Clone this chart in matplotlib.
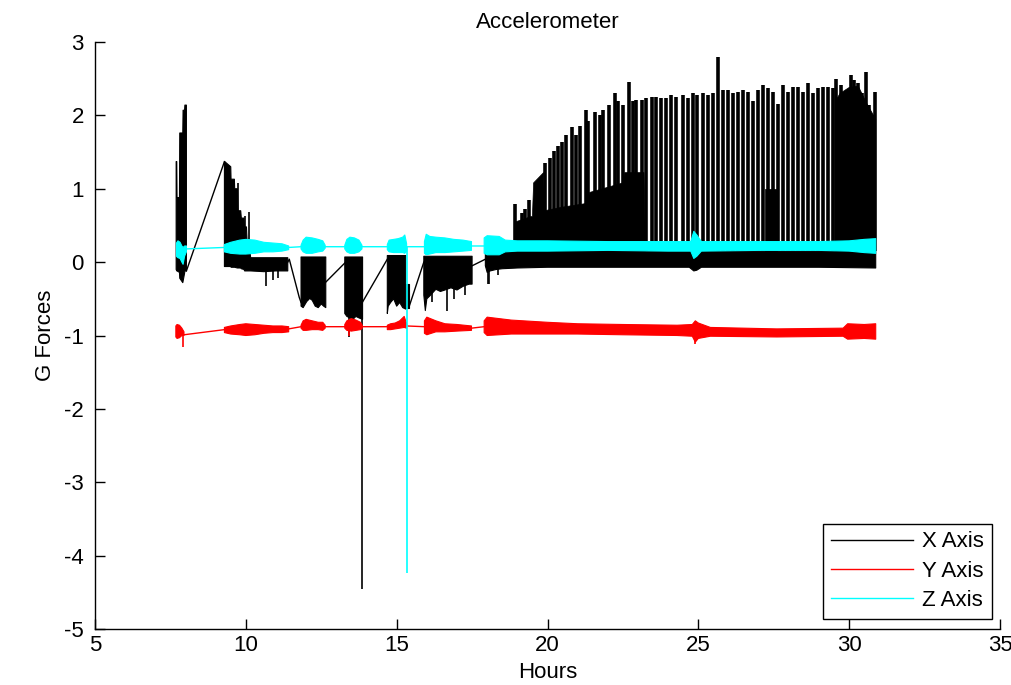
import numpy as np
import matplotlib
matplotlib.use("Agg")
import matplotlib.pyplot as plt

nan = np.nan

# ---------------- X axis (black) ----------------
# dense noisy blocks: envelope (hours, low, high), NaN separates blocks
x_blk_hours = [7.69, 7.71, 7.72, 7.80, 7.81, 7.91, 7.92, 7.97, 7.98, 8.03, nan,
               9.29, 9.30, 9.50, 9.51, 9.62, 9.63, 9.72, 9.74, 9.83, 9.85, 9.94, 9.96,
               10.02, 10.04, 10.10, 10.12, 10.16, 10.60, 11.00, 11.39, nan,
               11.83, 11.90, 12.00, 12.10, 12.20, 12.30, 12.40, 12.50, 12.58, 12.65, nan,
               13.28, 13.35, 13.45, 13.55, 13.65, 13.75, 13.87, nan,
               14.69, 14.72, 14.80, 14.90, 15.00, 15.10, 15.20, 15.30, nan,
               15.31, 15.40, nan,
               15.90, 15.95, 16.00, 16.10, 16.30, 16.45, 16.60, 16.80, 17.00, 17.20, 17.40, 17.50, nan,
               17.94, 18.00, 18.10, 18.30, 18.50, 19.00, 20.00, 22.00, 24.70, 24.85, 24.95, 25.10,
               27.00, 29.00, 30.88]
x_blk_high = [1.37, 1.37, 0.88, 0.88, 1.76, 1.76, 2.07, 2.07, 2.14, 2.14, nan,
              1.37, 1.37, 1.30, 1.13, 1.13, 1.00, 1.00, 0.70, 0.70, 0.60, 0.60, 0.48,
              0.48, 0.30, 0.30, 0.20, 0.06, 0.06, 0.06, 0.06, nan,
              0.07, 0.07, 0.07, 0.07, 0.07, 0.07, 0.07, 0.07, 0.07, 0.07, nan,
              0.07, 0.07, 0.07, 0.07, 0.07, 0.07, 0.07, nan,
              0.09, 0.09, 0.09, 0.09, 0.09, 0.09, 0.09, 0.09, nan,
              -0.30, -0.30, nan,
              0.08, 0.08, 0.08, 0.08, 0.08, 0.08, 0.08, 0.08, 0.08, 0.08, 0.08, 0.08, nan,
              0.15, 0.15, 0.15, 0.15, 0.15, 0.15, 0.15, 0.15, 0.15, 0.15, 0.15, 0.15,
              0.15, 0.15, 0.15]
x_blk_low = [-0.10, -0.12, -0.12, -0.14, -0.22, -0.28, -0.26, -0.15, -0.12, -0.12, nan,
             -0.06, -0.06, -0.06, -0.07, -0.07, -0.07, -0.08, -0.08, -0.08, -0.09, -0.10, -0.12,
             -0.12, -0.12, -0.12, -0.12, -0.12, -0.13, -0.12, -0.12, nan,
             -0.60, -0.62, -0.55, -0.49, -0.52, -0.60, -0.62, -0.57, -0.60, -0.62, nan,
             -0.70, -0.74, -0.76, -0.78, -0.74, -0.76, -0.78, nan,
             -0.70, -0.60, -0.55, -0.50, -0.60, -0.55, -0.62, -0.64, nan,
             -0.62, -0.62, nan,
             -0.45, -0.66, -0.50, -0.46, -0.37, -0.40, -0.38, -0.35, -0.38, -0.33, -0.30, -0.30, nan,
             -0.05, -0.14, -0.12, -0.10, -0.09, -0.08, -0.07, -0.07, -0.07, -0.12, -0.11, -0.07,
             -0.07, -0.07, -0.08]

# solid mass above baseline after hour 19
x_mass_hours = [18.90, 18.95, 19.45, 19.50, 19.54, 19.87, 19.90, 20.50, 21.30, 21.40, 22.00,
                22.50, 22.56, 23.20, 23.25, nan, 27.20, 27.60, nan,
                29.55, 29.70, 30.00, 30.30, 30.60, 30.88]
x_mass_top = [0.15, 0.55, 0.62, 0.62, 1.08, 1.22, 0.70, 0.75, 0.80, 0.95, 1.02,
              1.08, 1.22, 1.22, 0.15, nan, 1.00, 1.00, nan,
              2.20, 2.30, 2.38, 2.40, 2.15, 1.95]

# periodic tall teeth
x_tooth_hours = [18.93, 19.15, 19.26, 19.39, 19.92, 20.09, 20.20, 20.36, 20.47, 20.60,
                 20.80, 20.94, 21.08, 21.27, 21.35, 21.57, 21.74, 21.85, 22.04, 22.24,
                 22.35, 22.51, 22.70, 22.84, 22.95, 23.12, 23.28, 23.45, 23.61, 23.75,
                 23.94, 24.11, 24.27, 24.50, 24.66, 24.83, 24.97, 25.16, 25.32, 25.49,
                 25.65, 25.82, 25.98, 26.15, 26.31, 26.48, 26.64, 26.81, 26.97, 27.14,
                 27.30, 27.47, 27.63, 27.80, 27.96, 28.13, 28.29, 28.46, 28.62, 28.79,
                 28.96, 29.12, 29.29, 29.45, 29.56, 29.73, 29.89, 30.06, 30.17, 30.28,
                 30.44, 30.55, 30.66, 30.77, 30.85]
x_tooth_top = [0.79, 0.67, 0.72, 0.85, 1.35, 1.42, 1.51, 1.58, 1.64, 1.73,
               1.84, 1.73, 1.85, 2.07, 1.92, 2.05, 2.01, 2.07, 2.14, 2.30,
               2.19, 2.14, 2.46, 2.19, 2.21, 2.21, 2.23, 2.25, 2.25, 2.23,
               2.23, 2.28, 2.25, 2.28, 2.23, 2.30, 2.28, 2.30, 2.28, 2.30,
               2.80, 2.35, 2.35, 2.30, 2.32, 2.35, 2.32, 2.19, 2.35, 2.41,
               2.37, 2.32, 2.16, 2.41, 2.32, 2.39, 2.39, 2.32, 2.44, 2.30,
               2.37, 2.39, 2.39, 2.37, 2.50, 2.41, 2.32, 2.55, 2.48, 2.44,
               2.30, 2.59, 2.14, 2.01, 2.32]

# isolated thin spikes (hour, from, to)
x_spike_hours = [9.73, 9.96, 10.12, 10.67, 10.90, 11.05, 13.42, 13.84, 16.18, 16.67,
                 16.90, 17.25, 18.02, 18.07, 18.35]
x_spike_from = [0.00, 0.00, 0.00, -0.10, -0.10, -0.10, -0.70, -0.70, -0.40, -0.35,
                -0.35, -0.30, -0.10, -0.10, -0.10]
x_spike_to = [1.08, 0.63, 0.68, -0.32, -0.25, -0.22, -1.02, -4.46, -0.55, -0.66,
              -0.50, -0.45, -0.30, -0.30, -0.18]

# connecting lines across gaps
x_link_hours = [8.03, 9.29, nan, 11.39, 11.44, 11.77, 11.83, nan, 12.05, 13.31, nan,
                13.86, 14.69, nan, 15.41, 15.90, nan, 17.50, 17.94]
x_link_values = [-0.12, 1.37, nan, 0.00, 0.04, -0.48, -0.55, nan, -0.52, 0.00, nan,
                 -0.55, 0.04, nan, -0.61, 0.00, nan, -0.05, 0.04]

# ---------------- Y axis (red) ----------------
y_blk_hours = [7.68, 7.72, 7.80, 7.88, 7.95, nan,
               9.29, 9.50, 9.80, 10.00, 10.30, 10.60, 10.90, 11.20, 11.42, nan,
               11.83, 11.90, 12.00, 12.20, 12.40, 12.55, 12.63, nan,
               13.28, 13.35, 13.50, 13.65, 13.80, 13.86, nan,
               14.69, 14.80, 14.95, 15.10, 15.25, 15.33, nan,
               15.92, 16.00, 16.30, 16.60, 17.00, 17.48, nan,
               17.90, 18.00, 18.80, 20.00, 21.00, 22.50, 24.30, 24.80, 24.90, 25.00,
               25.40, 27.60, 29.80, 29.95, 30.50, 30.88]
y_blk_high = [-0.87, -0.85, -0.86, -0.90, -0.95, nan,
              -0.89, -0.87, -0.85, -0.84, -0.85, -0.86, -0.87, -0.87, -0.88, nan,
              -0.86, -0.80, -0.78, -0.80, -0.82, -0.82, -0.86, nan,
              -0.85, -0.80, -0.77, -0.79, -0.82, -0.86, nan,
              -0.86, -0.84, -0.83, -0.80, -0.74, -0.84, nan,
              -0.80, -0.75, -0.80, -0.84, -0.85, -0.87, nan,
              -0.80, -0.75, -0.79, -0.82, -0.84, -0.85, -0.86, -0.85, -0.80, -0.83,
              -0.89, -0.91, -0.90, -0.84, -0.85, -0.84]
y_blk_low = [-1.02, -1.04, -1.03, -1.00, -1.00, nan,
             -0.96, -0.98, -0.99, -1.00, -0.99, -0.97, -0.96, -0.96, -0.95, nan,
             -0.90, -0.93, -0.93, -0.92, -0.92, -0.93, -0.90, nan,
             -0.90, -0.93, -0.94, -0.93, -0.92, -0.90, nan,
             -0.92, -0.92, -0.91, -0.90, -0.89, -0.90, nan,
             -0.97, -0.99, -0.95, -0.95, -0.94, -0.93, nan,
             -0.96, -1.00, -0.98, -0.98, -0.98, -0.99, -1.00, -1.01, -1.09, -1.04,
             -1.01, -1.02, -1.01, -1.05, -1.04, -1.05]
y_spike_hours = [7.93, 13.42, 24.90]
y_spike_from = [-1.00, -0.92, -1.00]
y_spike_to = [-1.16, -1.00, -1.12]
y_link_hours = [7.95, 9.29, nan, 11.42, 11.83, nan, 12.63, 13.28, nan, 13.86, 14.69, nan,
                15.33, 15.92, nan, 17.48, 17.90]
y_link_values = [-0.99, -0.92, nan, -0.91, -0.88, nan, -0.88, -0.88, nan, -0.88, -0.88, nan,
                 -0.87, -0.88, nan, -0.90, -0.88]

# ---------------- Z axis (cyan) ----------------
z_blk_hours = [7.70, 7.75, 7.82, 7.88, 7.92, 7.97, 8.03, nan,
               9.29, 9.50, 9.80, 10.00, 10.30, 10.60, 10.90, 11.20, 11.42, nan,
               11.83, 11.90, 12.00, 12.20, 12.40, 12.55, 12.63, nan,
               13.28, 13.35, 13.45, 13.60, 13.75, 13.85, nan,
               14.69, 14.75, 14.90, 15.05, 15.20, 15.27, 15.33, nan,
               15.92, 15.98, 16.10, 16.30, 16.60, 16.90, 17.20, 17.48, nan,
               17.90, 18.00, 18.40, 18.60, 19.00, 20.00, 22.00, 24.00, 24.75, 24.85,
               24.95, 25.10, 27.00, 29.00, 30.00, 30.50, 30.88]
z_blk_high = [0.26, 0.29, 0.27, 0.22, 0.20, 0.22, 0.22, nan,
              0.24, 0.27, 0.30, 0.31, 0.30, 0.27, 0.26, 0.25, 0.22, nan,
              0.23, 0.30, 0.34, 0.33, 0.31, 0.29, 0.23, nan,
              0.23, 0.31, 0.34, 0.33, 0.30, 0.23, nan,
              0.24, 0.30, 0.31, 0.32, 0.34, 0.37, 0.25, nan,
              0.28, 0.38, 0.35, 0.34, 0.33, 0.31, 0.30, 0.28, nan,
              0.33, 0.36, 0.35, 0.30, 0.29, 0.29, 0.28, 0.28, 0.28, 0.42,
              0.37, 0.28, 0.28, 0.28, 0.29, 0.31, 0.32]
z_blk_low = [0.08, 0.06, 0.05, 0.00, -0.03, 0.08, 0.14, nan,
             0.14, 0.12, 0.11, 0.11, 0.12, 0.14, 0.14, 0.15, 0.17, nan,
             0.18, 0.14, 0.12, 0.12, 0.14, 0.15, 0.19, nan,
             0.18, 0.14, 0.12, 0.12, 0.14, 0.18, nan,
             0.17, 0.14, 0.13, 0.13, 0.13, 0.12, 0.15, nan,
             0.12, 0.10, 0.11, 0.13, 0.13, 0.14, 0.15, 0.16, nan,
             0.12, 0.10, 0.10, 0.14, 0.15, 0.15, 0.16, 0.15, 0.15, 0.05,
             0.08, 0.15, 0.16, 0.16, 0.15, 0.13, 0.12]
z_spike_hours = [15.35]
z_spike_from = [0.20]
z_spike_to = [-4.23]
z_link_hours = [8.03, 9.29, nan, 11.42, 11.83, nan, 12.63, 13.28, nan, 13.85, 14.69, nan,
                15.33, 15.92, nan, 17.48, 17.90]
z_link_values = [0.18, 0.20, nan, 0.20, 0.21, nan, 0.21, 0.21, nan, 0.21, 0.21, nan,
                 0.21, 0.21, nan, 0.22, 0.22]

series_labels = ["X Axis", "Y Axis", "Z Axis"]
x_ticks = [5, 10, 15, 20, 25, 30, 35]
y_ticks = [-5, -4, -3, -2, -1, 0, 1, 2, 3]

# ---------------- drawing ----------------
plt.rcParams['font.family'] = ['Liberation Sans', 'DejaVu Sans']
plt.rcParams['axes.unicode_minus'] = False
FS = 16

BLACK = '#000000'
RED = '#ff0000'
CYAN = '#00ffff'

fig = plt.figure(figsize=(10.12, 6.85), dpi=100)
ax = fig.add_axes([95 / 1012, (685 - 629) / 685, (1000 - 95) / 1012, (629 - 42) / 685])


def draw_series(hours, lo, hi, link_h, link_v, sp_h, sp_a, sp_b, color, label, z):
    ax.fill_between(np.array(hours, float), np.array(lo, float), np.array(hi, float),
                    color=color, linewidth=0.8, edgecolor=color, zorder=z)
    ax.plot(link_h, link_v, color=color, linewidth=1.0, zorder=z, label=label)
    ax.vlines(sp_h, sp_a, sp_b, color=color, linewidth=1.2, zorder=z)


# X
draw_series(x_blk_hours, x_blk_low, x_blk_high, x_link_hours, x_link_values,
            x_spike_hours, x_spike_from, x_spike_to, BLACK, series_labels[0], 2)
mh = np.array(x_mass_hours, float)
mt = np.array(x_mass_top, float)
ax.fill_between(mh, np.full_like(mh, 0.15), mt, color=BLACK, linewidth=0.5, edgecolor=BLACK, zorder=2)
ax.vlines(x_tooth_hours, 0.15, x_tooth_top, color=BLACK, linewidth=2.6, zorder=2)

# Y
draw_series(y_blk_hours, y_blk_low, y_blk_high, y_link_hours, y_link_values,
            y_spike_hours, y_spike_from, y_spike_to, RED, series_labels[1], 3)
# Z
draw_series(z_blk_hours, z_blk_low, z_blk_high, z_link_hours, z_link_values,
            z_spike_hours, z_spike_from, z_spike_to, CYAN, series_labels[2], 4)

ax.set_xlim(5, 35)
ax.set_ylim(-5, 3)
ax.set_xticks(x_ticks)
ax.set_yticks(y_ticks)
ax.tick_params(direction='in', length=7, width=1, labelsize=FS, colors='black')
ax.tick_params(axis='x', pad=4)
ax.tick_params(axis='y', pad=8)
for s in ['top', 'right']:
    ax.spines[s].set_visible(False)
for s in ['left', 'bottom']:
    ax.spines[s].set_linewidth(1.0)

ax.set_title("Accelerometer", fontsize=FS, pad=10)
ax.set_xlabel("Hours", fontsize=FS, labelpad=5)
ax.set_ylabel("G Forces", fontsize=FS, labelpad=6)

leg = ax.legend(loc='lower right', bbox_to_anchor=(0.991, 0.017), fontsize=FS,
                frameon=True, fancybox=False, edgecolor='black', framealpha=1,
                handlelength=3.7, handletextpad=0.4, borderpad=0.35, labelspacing=0.38,
                borderaxespad=0)
leg.get_frame().set_linewidth(1.0)

fig.savefig("out.png", dpi=100, facecolor='white')
